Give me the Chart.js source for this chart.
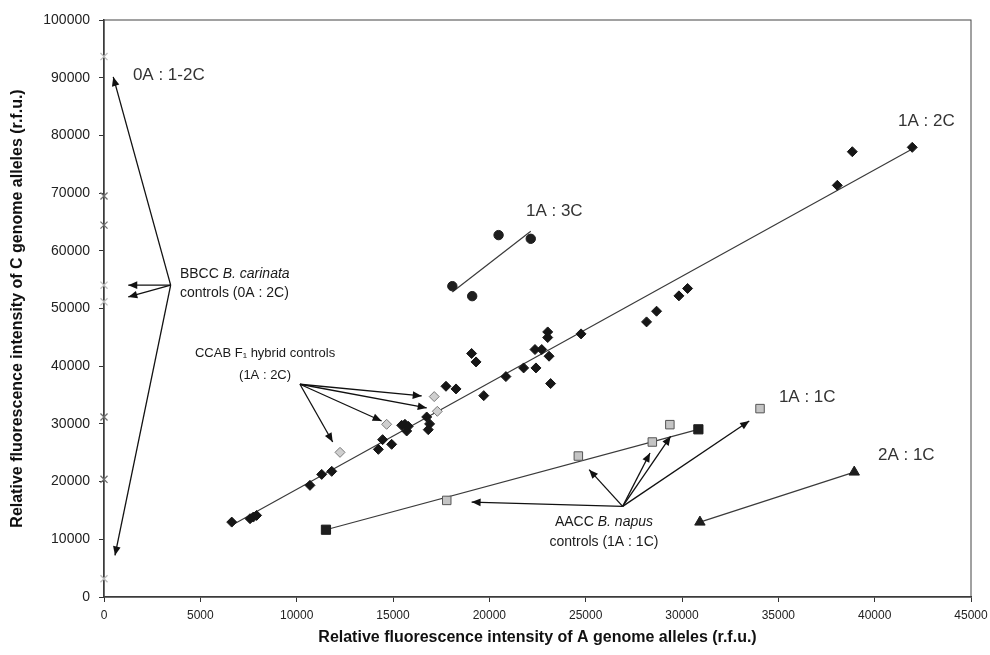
<!DOCTYPE html>
<html><head><meta charset="utf-8">
<script src="https://cdn.jsdelivr.net/npm/chart.js@4.4.1/dist/chart.umd.min.js"></script>
<style>html,body{margin:0;padding:0;background:#fff;}</style>
</head><body>
<canvas id="c" width="990" height="655" style="width:990px;height:655px;display:block"></canvas>
<script>
// ---------- DATA ----------
const xTickLabels = ['0','5000','10000','15000','20000','25000','30000','35000','40000','45000'];
const yTickLabels = ['0','10000','20000','30000','40000','50000','60000','70000','80000','90000','100000'];

// 1A:2C samples (black diamonds)
const s12A = [6630,7580,7750,7920,10690,11300,11820,14240,14460,14930,15450,15620,15790,15710,16750,16900,16830,17750,18270,19710,19080,19310,20860,21780,22420,22370,22720,23030,23030,23100,23180,24760,28160,28680,29840,30290,38060,38840,41950];
const s12C = [12980,13570,13850,14140,19350,21250,21780,25590,27270,26460,29760,29930,29580,28770,31200,30000,29000,36520,36060,34900,42200,40740,38200,39700,39700,42890,42890,45940,44970,41730,36990,45600,47680,49530,52190,53470,71340,77170,77930];

// CCAB F1 hybrid controls (grey diamonds)
const f1A = [12250,14670,17140,17300];
const f1C = [25070,29930,34730,32180];

// 1A:3C samples (black circles)
const s13A = [20480,22150,18080,19110];
const s13C = [62720,62080,53870,52140];

// 1A:1C samples (black squares)
const s11A = [11520,30850];
const s11C = [11660,29060];

// AACC B. napus controls (grey squares)
const napA = [17790,24620,28460,29370,34050];
const napC = [16740,24430,26860,29870,32650];

// 2A:1C samples (black triangles)
const s21A = [30930,38940];
const s21C = [12980,21650];

// 0A samples (dark crosses) and BBCC B. carinata controls (light crosses)
const s0A = [0,0,0,0];
const s0C = [69490,64450,31200,20390];
const carA = [0,0,0,0];
const carC = [93660,54050,51150,3160];

// annotation labels (data coordinates)
const labelText = ['0A : 1-2C','1A : 3C','1A : 2C','1A : 1C','2A : 1C'];
const labelA = [1500,21900,41210,35030,40170];
const labelC = [90480,66760,82380,34670,24550];

// arrows: [fromA, fromC, toA, toC]
const arrows = [
  [3460,54050, 480,90130],
  [3460,54050, 570,7200],
  [3460,54050, 1260,54050],
  [3460,54050, 1260,52000],
  [10170,36870, 16490,34840],
  [10170,36870, 16750,32760],
  [10170,36870, 14410,30500],
  [10170,36870, 11870,26860],
  [26920,15700, 19080,16450],
  [26920,15700, 25180,22070],
  [26920,15700, 28340,24950],
  [26920,15700, 29410,27850],
  [26920,15700, 33490,30500]
];

// ---------- HELPERS ----------
const pts = (xs, ys) => xs.map((x, i) => ({x, y: ys[i]}));
function trend(xs, ys) {
  const n = xs.length;
  const mx = xs.reduce((a,b)=>a+b,0)/n, my = ys.reduce((a,b)=>a+b,0)/n;
  let sxy=0, sxx=0;
  for (let i=0;i<n;i++){ sxy+=(xs[i]-mx)*(ys[i]-my); sxx+=(xs[i]-mx)*(xs[i]-mx); }
  const b = sxy/sxx, a = my - b*mx;
  const lo = Math.min(...xs), hi = Math.max(...xs);
  return [{x:lo, y:a+b*lo},{x:hi, y:a+b*hi}];
}
const FONT = '"Liberation Sans", Arial, sans-serif';

const lineDs = (data) => ({type:'line', data, borderColor:'#3a3a3a', borderWidth:1.2, pointRadius:0, fill:false, order:10, showLine:true});
const markDs = (data, style, r, fill, stroke, bw) => ({type:'scatter', data, pointStyle:style, pointRadius:r, pointHoverRadius:r, backgroundColor:fill, borderColor:stroke, pointBorderWidth:bw===undefined?1:bw, order:0, clip:false});

// ---------- ANNOTATION PLUGIN ----------
function drawArrow(ctx, x1, y1, x2, y2) {
  ctx.beginPath(); ctx.moveTo(x1,y1); ctx.lineTo(x2,y2); ctx.stroke();
  const ang = Math.atan2(y2-y1, x2-x1), L = 9, W = 3.8;
  ctx.beginPath();
  ctx.moveTo(x2, y2);
  ctx.lineTo(x2 - L*Math.cos(ang) + W*Math.sin(ang), y2 - L*Math.sin(ang) - W*Math.cos(ang));
  ctx.lineTo(x2 - L*Math.cos(ang) - W*Math.sin(ang), y2 - L*Math.sin(ang) + W*Math.cos(ang));
  ctx.closePath(); ctx.fill();
}
function richLine(ctx, segs, x, y, size, align) {
  let w = 0;
  segs.forEach(s => { ctx.font = (s[1]?'italic ':'') + size + 'px ' + FONT; w += ctx.measureText(s[0]).width; });
  let cx = align === 'center' ? x - w/2 : x;
  ctx.textAlign = 'left';
  segs.forEach(s => { ctx.font = (s[1]?'italic ':'') + size + 'px ' + FONT; ctx.fillText(s[0], cx, y); cx += ctx.measureText(s[0]).width; });
}
const annoPlugin = {
  id: 'anno',
  beforeDatasetsDraw(chart) {
    const {ctx, chartArea: a} = chart;
    ctx.save();
    ctx.strokeStyle = '#444'; ctx.lineWidth = 1;
    ctx.strokeRect(a.left, a.top, a.right - a.left, a.bottom - a.top);
    ctx.restore();
  },
  afterDatasetsDraw(chart) {
    const {ctx} = chart; const X = chart.scales.x, Y = chart.scales.y;
    ctx.save();
    ctx.strokeStyle = '#111'; ctx.fillStyle = '#111'; ctx.lineWidth = 1.3;
    arrows.forEach(r => drawArrow(ctx, X.getPixelForValue(r[0]), Y.getPixelForValue(r[1]), X.getPixelForValue(r[2]), Y.getPixelForValue(r[3])));
    ctx.textBaseline = 'middle';
    ctx.fillStyle = '#333';
    labelText.forEach((t, i) => {
      ctx.font = '17px ' + FONT; ctx.textAlign = 'left';
      ctx.fillText(t, X.getPixelForValue(labelA[i]), Y.getPixelForValue(labelC[i]));
    });
    ctx.fillStyle = '#1a1a1a';
    richLine(ctx, [['BBCC ',0],['B. carinata',1]], X.getPixelForValue(3940), Y.getPixelForValue(55950), 14, 'left');
    richLine(ctx, [['controls (0A : 2C)',0]], X.getPixelForValue(3940), Y.getPixelForValue(52660), 14, 'left');
    richLine(ctx, [['CCAB F\u2081 hybrid controls',0]], X.getPixelForValue(8360), Y.getPixelForValue(42200), 13, 'center');
    richLine(ctx, [['(1A : 2C)',0]], X.getPixelForValue(8360), Y.getPixelForValue(38430), 13, 'center');
    richLine(ctx, [['AACC ',0],['B. napus',1]], X.getPixelForValue(25950), Y.getPixelForValue(12980), 14, 'center');
    richLine(ctx, [['controls (1A : 1C)',0]], X.getPixelForValue(25950), Y.getPixelForValue(9510), 14, 'center');
    ctx.restore();
  }
};

// ---------- CHART ----------
new Chart(document.getElementById('c'), {
  type: 'scatter',
  data: {
    datasets: [
      lineDs(trend(s12A, s12C)),
      lineDs(trend(s13A, s13C)),
      lineDs(trend(s11A, s11C)),
      lineDs(trend(s21A, s21C)),
      markDs(pts(s12A, s12C), 'rectRot', 5, '#161616', '#161616'),
      markDs(pts(f1A, f1C), 'rectRot', 5, '#cfcfcf', '#7a7a7a'),
      markDs(pts(s13A, s13C), 'circle', 4.7, '#1e1e1e', '#1e1e1e'),
      markDs(pts(napA, napC), 'rect', 6, '#c4c4c4', '#555555'),
      markDs(pts(s11A, s11C), 'rect', 6.5, '#1e1e1e', '#1e1e1e'),
      markDs(pts(s21A, s21C), 'triangle', 6, '#1e1e1e', '#1e1e1e'),
      markDs(pts(s0A, s0C), 'crossRot', 5, 'rgba(0,0,0,0)', '#6e6e6e', 1.3),
      markDs(pts(carA, carC), 'crossRot', 5, 'rgba(0,0,0,0)', '#bdbdbd', 1.3)
    ]
  },
  options: {
    responsive: false,
    animation: false,
    events: [],
    layout: {padding: {left: 0, right: 19, top: 20, bottom: 0}},
    plugins: {legend: {display: false}, tooltip: {enabled: false}},
    scales: {
      x: {
        type: 'linear', min: 0, max: 45000,
        afterFit: s => { s.height = 58; s.paddingRight = 0; s.paddingLeft = 0; },
        ticks: {stepSize: 5000, color: '#222', font: {family: FONT, size: 12}, padding: 6, maxRotation: 0,
                callback: (v, i) => xTickLabels[i]},
        grid: {display: true, drawOnChartArea: false, drawTicks: true, tickLength: 5, color: '#333'},
        border: {display: true, color: '#333', width: 1.5},
        title: {display: true, text: 'Relative fluorescence intensity of A genome alleles (r.f.u.)',
                color: '#111', font: {family: FONT, size: 16, weight: 'bold'}, padding: {top: 0, bottom: 8}}
      },
      y: {
        type: 'linear', min: 0, max: 100000,
        afterFit: s => { s.width = 104; s.paddingTop = 0; s.paddingBottom = 0; },
        ticks: {stepSize: 10000, color: '#222', font: {family: FONT, size: 14}, padding: 9,
                callback: (v, i) => yTickLabels[i]},
        grid: {display: true, drawOnChartArea: false, drawTicks: true, tickLength: 5, color: '#333'},
        border: {display: true, color: '#333', width: 1.5},
        title: {display: true, text: 'Relative fluorescence intensity of C genome alleles (r.f.u.)',
                color: '#111', font: {family: FONT, size: 16, weight: 'bold'}, padding: {top: 8, bottom: 0}}
      }
    }
  },
  plugins: [annoPlugin]
});
</script>
</body></html>
